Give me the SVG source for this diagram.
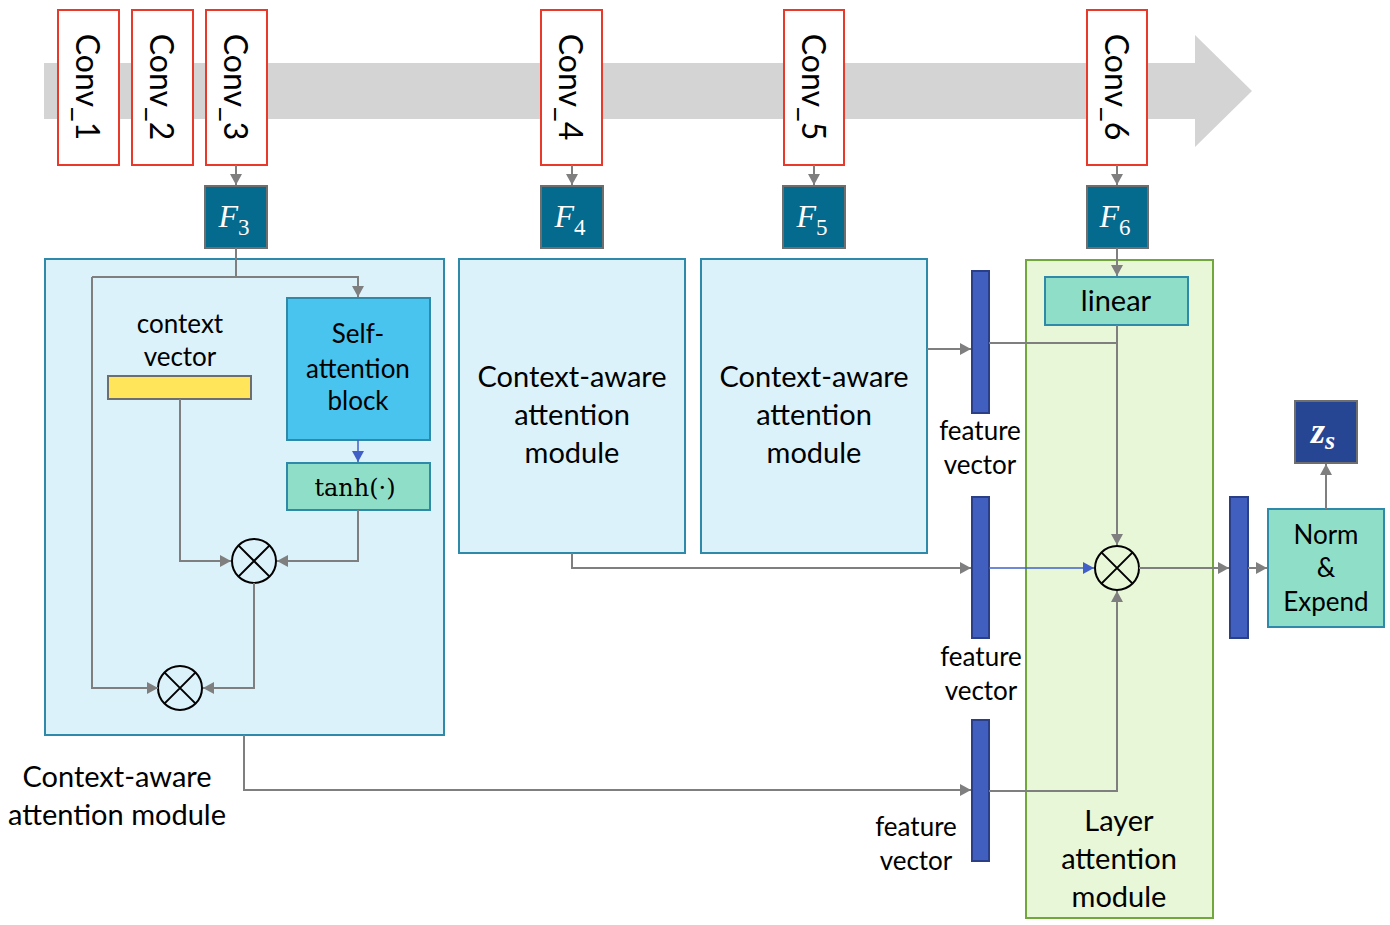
<svg xmlns="http://www.w3.org/2000/svg" width="1390" height="925" viewBox="0 0 1390 925">
<style>
.conv{fill:#fff;stroke:#e8392b;stroke-width:2}
.convt{font-family:Lato,"Open Sans",sans-serif;font-size:32px;fill:#000;text-anchor:middle;dominant-baseline:central}
.fbox{fill:#046b8f;stroke:#6e6e6e;stroke-width:2}
.math{font-family:"Liberation Serif","DejaVu Serif",serif;font-style:italic;fill:#fff;text-anchor:middle}
.sub{font-style:normal}
.lbl{font-family:Lato,"Open Sans",sans-serif;font-size:26px;fill:#000;text-anchor:middle}
.big{font-family:Lato,"Open Sans",sans-serif;font-size:29px;fill:#000;text-anchor:middle}
.mod{fill:#dbf2fb;stroke:#2e8aa8;stroke-width:2}
.green{fill:#8fdfc8;stroke:#2e8aa8;stroke-width:2}
.fv{fill:#405fbe;stroke:#2b3f88;stroke-width:2}
.ln{fill:none;stroke:#7f7f7f;stroke-width:2}
.arr{marker-end:url(#ah)}
.circ{fill:none;stroke:#000;stroke-width:2}
</style>
<defs>
<marker id="ah" markerUnits="userSpaceOnUse" markerWidth="12" markerHeight="12" refX="11" refY="6" orient="auto">
<path d="M0,0 L11,6 L0,12 z" fill="#7f7f7f"/>
</marker>
<marker id="ahb" markerUnits="userSpaceOnUse" markerWidth="12" markerHeight="12" refX="11" refY="6" orient="auto">
<path d="M0,0 L11,6 L0,12 z" fill="#4060c8"/>
</marker>
</defs>
<rect width="1390" height="925" fill="#fff"/>
<g id="backbone">
<path d="M44,63 L1195,63 L1195,35 L1252,91 L1195,147 L1195,119 L44,119 z" fill="#d4d4d4"/>
</g>
<g id="conv1"><rect class="conv" x="58" y="10" width="61" height="155"/><text class="convt" transform="translate(88.5,87) rotate(90)">Conv_1</text></g>
<g id="conv2"><rect class="conv" x="132" y="10" width="61" height="155"/><text class="convt" transform="translate(162.5,87) rotate(90)">Conv_2</text></g>
<g id="conv3"><rect class="conv" x="206" y="10" width="61" height="155"/><text class="convt" transform="translate(236.5,87) rotate(90)">Conv_3</text></g>
<g id="conv4"><rect class="conv" x="541" y="10" width="61" height="155"/><text class="convt" transform="translate(571.5,87) rotate(90)">Conv_4</text></g>
<g id="conv5"><rect class="conv" x="784" y="10" width="60" height="155"/><text class="convt" transform="translate(814,87) rotate(90)">Conv_5</text></g>
<g id="conv6"><rect class="conv" x="1087" y="10" width="60" height="155"/><text class="convt" transform="translate(1117,87) rotate(90)">Conv_6</text></g>

<g id="F3"><rect class="fbox" x="205" y="186" width="62" height="62"/><text class="math" x="234" y="227" font-size="32">F<tspan class="sub" font-size="23" dy="8">3</tspan></text></g>
<g id="F4"><rect class="fbox" x="541" y="186" width="62" height="62"/><text class="math" x="570" y="227" font-size="32">F<tspan class="sub" font-size="23" dy="8">4</tspan></text></g>
<g id="F5"><rect class="fbox" x="783" y="186" width="62" height="62"/><text class="math" x="812" y="227" font-size="32">F<tspan class="sub" font-size="23" dy="8">5</tspan></text></g>
<g id="F6"><rect class="fbox" x="1087" y="186" width="61" height="62"/><text class="math" x="1115" y="227" font-size="32">F<tspan class="sub" font-size="23" dy="8">6</tspan></text></g>

<g id="module1">
<rect class="mod" x="45" y="259" width="399" height="476"/>
</g>
<g id="ctxvec">
<text class="lbl" x="180" y="333">context</text>
<text class="lbl" x="180" y="366">vector</text>
<rect x="108" y="376" width="143" height="23" fill="#ffe55a" stroke="#6e6e6e" stroke-width="2"/>
</g>
<g id="selfatt">
<rect x="287" y="298" width="143" height="142" fill="#48c4ee" stroke="#2e8aa8" stroke-width="2"/>
<text class="lbl" x="358" y="343">Self-</text>
<text class="lbl" x="358" y="378">attention</text>
<text class="lbl" x="358" y="410">block</text>
</g>
<g id="tanh">
<rect class="green" x="287" y="463" width="143" height="47"/>
<text x="355" y="496" font-family="'DejaVu Serif','Liberation Serif',serif" font-size="24" text-anchor="middle">tanh(·)</text>
</g>
<g id="mult1"><circle class="circ" cx="254" cy="561" r="22"/><path class="circ" d="M238.4,545.4 L269.6,576.6 M269.6,545.4 L238.4,576.6"/></g>
<g id="mult2"><circle class="circ" cx="180" cy="688" r="22"/><path class="circ" d="M164.4,672.4 L195.6,703.6 M195.6,672.4 L164.4,703.6"/></g>
<g id="module1label">
<text class="big" x="117" y="787">Context-aware</text>
<text class="big" x="117" y="825">attention module</text>
</g>

<g id="module2">
<rect class="mod" x="459" y="259" width="226" height="294"/>
<text class="big" x="572" y="387">Context-aware</text>
<text class="big" x="572" y="425">attention</text>
<text class="big" x="572" y="463">module</text>
</g>
<g id="module3">
<rect class="mod" x="701" y="259" width="226" height="294"/>
<text class="big" x="814" y="387">Context-aware</text>
<text class="big" x="814" y="425">attention</text>
<text class="big" x="814" y="463">module</text>
</g>

<g id="layeratt">
<rect x="1026" y="260" width="187" height="658" fill="#e8f7d8" stroke="#70a83c" stroke-width="2"/>
<text class="big" x="1119" y="831">Layer</text>
<text class="big" x="1119" y="869">attention</text>
<text class="big" x="1119" y="907">module</text>
</g>
<g id="linear">
<rect class="green" x="1045" y="277" width="143" height="48"/>
<text class="big" x="1116" y="311">linear</text>
</g>
<g id="mult3"><circle class="circ" cx="1117" cy="568" r="22"/><path class="circ" d="M1101.4,552.4 L1132.6,583.6 M1132.6,552.4 L1101.4,583.6"/></g>

<g id="fv1"><rect class="fv" x="972" y="271" width="17" height="142"/>
<text class="lbl" x="980" y="440">feature</text><text class="lbl" x="980" y="474">vector</text></g>
<g id="fv2"><rect class="fv" x="972" y="497" width="17" height="141"/>
<text class="lbl" x="981" y="666">feature</text><text class="lbl" x="981" y="700">vector</text></g>
<g id="fv3"><rect class="fv" x="972" y="720" width="17" height="141"/>
<text class="lbl" x="916" y="836">feature</text><text class="lbl" x="916" y="870">vector</text></g>
<g id="fv4"><rect class="fv" x="1230" y="497" width="18" height="141"/></g>

<g id="norm">
<rect class="green" x="1268" y="509" width="116" height="118"/>
<text class="lbl" x="1326" y="544">Norm</text>
<text class="lbl" x="1326" y="577">&amp;</text>
<text class="lbl" x="1326" y="611">Expend</text>
</g>
<g id="zs">
<rect x="1295" y="401" width="62" height="62" fill="#264593" stroke="#6e6e6e" stroke-width="2"/>
<text class="math" x="1323" y="443" font-size="36" font-weight="bold">z<tspan font-size="26" dy="6">s</tspan></text>
</g>

<g id="connectors">
<path class="ln arr" d="M236,165 L236,185"/>
<path class="ln arr" d="M572,165 L572,185"/>
<path class="ln arr" d="M814,165 L814,185"/>
<path class="ln arr" d="M1117,165 L1117,185"/>
<path class="ln" d="M236,248 L236,277"/>
<path class="ln arr" d="M92,277 L358,277 L358,297"/>
<path class="ln arr" d="M92,277 L92,688 L158,688"/>
<path d="M358,440 L358,462" fill="none" stroke="#4060c8" stroke-width="1.5" marker-end="url(#ahb)"/>
<path class="ln arr" d="M180,399 L180,561 L231,561"/>
<path class="ln arr" d="M358,510 L358,561 L277,561"/>
<path class="ln arr" d="M254,583 L254,688 L203,688"/>
<path class="ln arr" d="M244,735 L244,790 L971,790"/>
<path class="ln arr" d="M572,553 L572,568 L971,568"/>
<path class="ln arr" d="M927,349 L971,349"/>
<path class="ln arr" d="M1117,248 L1117,276"/>
<path class="ln" d="M989,343 L1117,343"/>
<path class="ln arr" d="M1117,325 L1117,545"/>
<path d="M989,568 L1094,568" fill="none" stroke="#4060c8" stroke-width="1.5" marker-end="url(#ahb)"/>
<path class="ln arr" d="M989,791 L1117,791 L1117,591"/>
<path class="ln arr" d="M1139,568 L1229,568"/>
<path class="ln arr" d="M1248,568 L1267,568"/>
<path class="ln arr" d="M1326,509 L1326,464"/>
</g>
</svg>
